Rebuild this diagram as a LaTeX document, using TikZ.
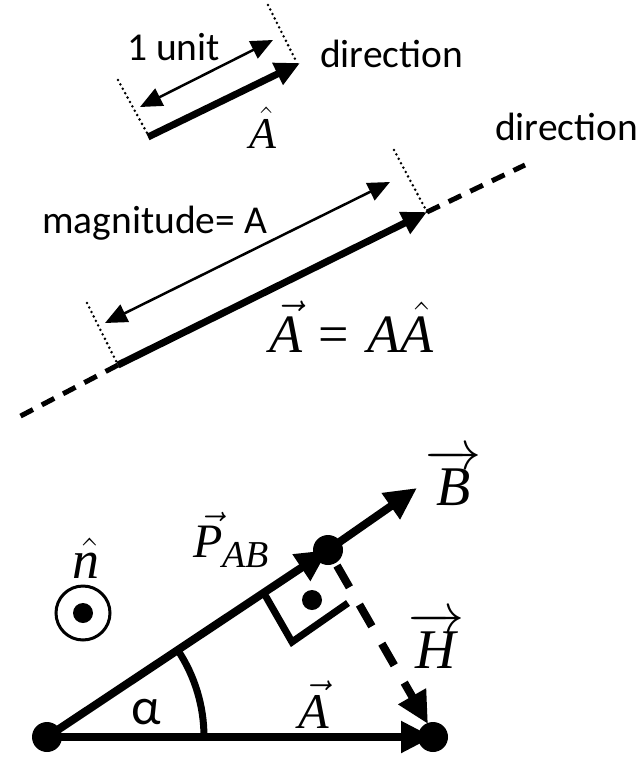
\RequirePackage{fix-cm}
\documentclass[tikz,border=0pt]{standalone}
\usepackage{fontspec}
\setmainfont{Carlito}
\newfontfamily\mfont{Liberation Serif}
\newcommand\ml[1]{\hbox{\mfont\itshape #1}}
\newcommand\acc[2]{#1{\hbox{\mfont\itshape #2\kern0.16em}}\kern-0.16em}
\usetikzlibrary{arrows.meta}
\begin{document}
\begin{tikzpicture}[x=1pt,y=-1pt,
  thickvec/.style={line width=7pt,-{Triangle[length=25pt,width=23pt]}},
  thinarr/.style={line width=2.5pt,{Triangle[length=22pt,width=19pt]}-{Triangle[length=22pt,width=19pt]}},
  dotline/.style={line width=2.8pt,line cap=round,dash pattern=on 0pt off 5pt},
  dirline/.style={line width=5pt,dash pattern=on 14pt off 10pt},
  bigvec/.style={line width=8pt,-{Triangle[length=32pt,width=30pt]}},
  bigdot/.style={circle,fill,inner sep=0pt,minimum size=30pt},
  smalldot/.style={circle,fill,inner sep=0pt,minimum size=20pt},
  txt/.style={inner sep=0pt,anchor=base west,font=\fontsize{39.5}{41}\selectfont},
  lab/.style={inner sep=0pt,anchor=base west}]
\useasboundingbox (0,0) rectangle (642,758);
% ---------- top: unit vector ----------
\coordinate (t1) at (148,137); \coordinate (t2) at (300,63);
\coordinate (u1) at (140,107); \coordinate (u2) at (273,40);
\coordinate (d1a) at (118,80); \coordinate (d1b) at (147,133);
\coordinate (d2a) at (268,5); \coordinate (d2b) at (297,63);
\draw[dotline] (d1a) -- (d1b);
\draw[dotline] (d2a) -- (d2b);
\draw[thickvec] (t1) -- (t2);
\draw[thinarr] (u1) -- (u2);
\node[txt] (l1) at (127,60) {1 unit};
\node[txt] (l2) at (320,67) {direction};
\node[lab,font=\fontsize{44}{46}\selectfont] (l3) at (249,148) {$\acc{\hat}{A}$};
% ---------- middle: vector ----------
\coordinate (m1) at (118,365); \coordinate (m2) at (427,212);
\coordinate (v1) at (105,323); \coordinate (v2) at (390,182);
\coordinate (e1a) at (87,303); \coordinate (e1b) at (117,363);
\coordinate (e2a) at (394,150); \coordinate (e2b) at (427,212);
\coordinate (f1) at (13,420); \coordinate (f2) at (525,165);
\draw[dirline] (m1) -- (f1);
\draw[dirline] (m2) -- (f2);
\draw[dotline] (e1a) -- (e1b);
\draw[dotline] (e2a) -- (e2b);
\draw[thickvec] (m1) -- (m2);
\draw[thinarr] (v1) -- (v2);
\node[txt] (l4) at (495,140) {direction};
\node[txt] (l5) at (42,233) {magnitude= A};
\node[lab,font=\fontsize{54}{56}\selectfont] (l6) at (269,352)
  {$\acc{\vec}{A}$\hspace{16pt}{\mfont =}\hspace{19pt}$\ml{A}\acc{\hat}{A}$};
% ---------- bottom: projection ----------
\coordinate (cO) at (47,737); \coordinate (cM) at (328,550); \coordinate (cR) at (433,737);
\coordinate (Btip) at (417,488); \coordinate (Htip) at (428,724);
\coordinate (a1) at (204,737);
\coordinate (q1) at (265,595); \coordinate (q2) at (292,642); \coordinate (q3) at (348,603);
\draw[bigvec] (cO) -- (cM);
\draw[bigvec] (cM) -- (Btip);
\draw[bigvec] (cO) -- (cR);
\draw[bigvec,dash pattern=on 25pt off 20pt,dash phase=27pt] (cM) -- (Htip);
\draw[line width=7pt] (a1) arc[start angle=0,end angle=-33.6,radius=157];
\draw[line width=7pt] (q1) -- (q2) -- (q3);
\node[smalldot] (qd) at (312,600) {};
\node[bigdot] (O) at (cO) {};
\node[bigdot] (M) at (cM) {};
\node[bigdot] (R) at (cR) {};
\node[circle,draw,line width=3pt,minimum size=54pt,inner sep=0pt] (nc) at (83,613) {};
\node[smalldot] (nd) at (83,613) {};
\node[lab,font=\fontsize{54}{56}\selectfont] (ln) at (72,578) {$\acc{\hat}{n}$};
\node[lab,font=\fontsize{48}{50}\selectfont] (lp) at (193,557)
  {$\acc{\vec}{P}$\raisebox{-10pt}{\fontsize{38}{38}\selectfont\mfont\itshape AB}};
\node[lab,font=\fontsize{56}{58}\selectfont] (lb) at (425,505) {$\overrightarrow{\ml{B}}$};
\node[lab,font=\fontsize{56}{58}\selectfont] (lh) at (408,668) {$\overrightarrow{\ml{H}}$};
\node[lab,font=\fontsize{50}{52}\selectfont] (la) at (298,728) {$\acc{\vec}{A}$};
\node[lab,font=\fontsize{52}{54}\selectfont] (lal) at (131,724) {α};
\end{tikzpicture}
\end{document}
